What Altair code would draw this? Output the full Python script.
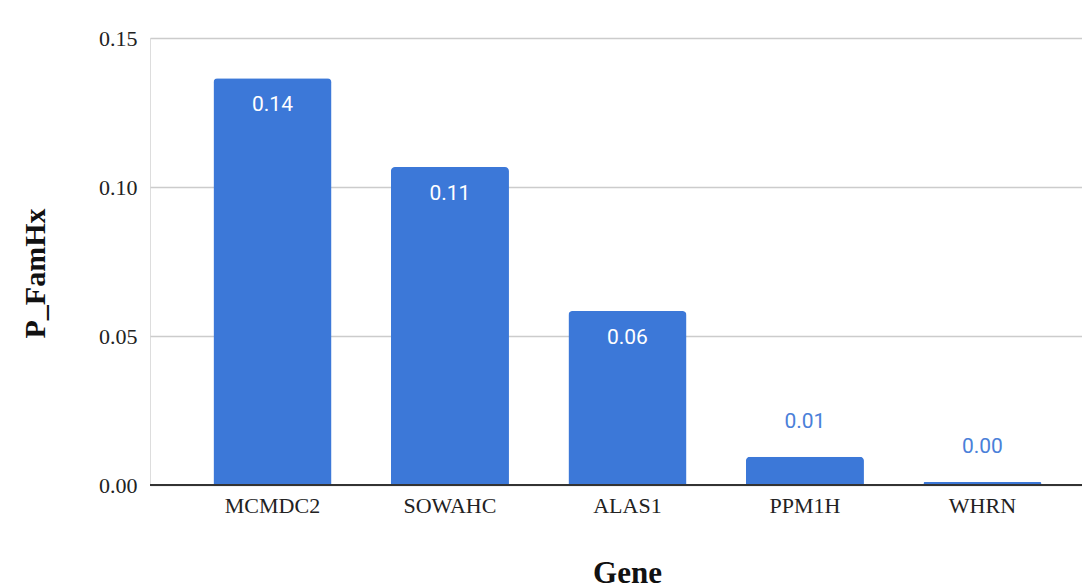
import altair as alt
import pandas as pd

# Gene-level P_FamHx values
genes = ["MCMDC2", "SOWAHC", "ALAS1", "PPM1H", "WHRN"]
p_famhx = [0.1365, 0.1067, 0.0584, 0.0095, 0.0010]
y_ticks = [0.0, 0.05, 0.10, 0.15]

df = pd.DataFrame({"gene": genes, "value": p_famhx})

BLUE = "#3c78d8"
SERIF = "Liberation Serif"

x_enc = alt.X(
    "gene:N",
    sort=genes,
    title="Gene",
    scale=alt.Scale(paddingInner=0.335, paddingOuter=0.293, align=0.61),
    axis=alt.Axis(
        labelFont=SERIF, labelFontSize=22, labelColor="#222222", labelAngle=0,
        labelPadding=10, ticks=False, domain=False, grid=False,
        titleFont=SERIF, titleFontSize=31, titleFontWeight="bold", titleColor="#111111",
        titleX=477, titleY=97, titleAlign="center", titleBaseline="alphabetic",
    ),
)
y_enc = alt.Y(
    "value:Q",
    title="P_FamHx",
    scale=alt.Scale(domain=[0, 0.15], nice=False),
    axis=alt.Axis(
        values=y_ticks, format=".2f",
        labelFont=SERIF, labelFontSize=22, labelColor="#222222", labelPadding=13,
        ticks=False, domain=False,
        grid=True, gridColor="#cccccc", gridWidth=1.5,
        titleFont=SERIF, titleFontSize=30, titleFontWeight="bold", titleColor="#111111",
        titleAngle=270, titleX=-106, titleY=235, titleAlign="center", titleBaseline="alphabetic",
    ),
)

base = alt.Chart(df)

bars = base.mark_bar(color=BLUE, cornerRadiusTopLeft=4, cornerRadiusTopRight=4).encode(
    x=x_enc, y=y_enc
)

inside = base.transform_filter("datum.value >= 0.03").mark_text(
    font="Roboto", fontSize=21, color="white", baseline="middle", dy=27
).encode(
    x=alt.X("gene:N", sort=genes),
    y="value:Q",
    text=alt.Text("value:Q", format=".2f"),
)

above = base.transform_filter("datum.value < 0.03").mark_text(
    font="Roboto", fontSize=21, color="#4a80d9", baseline="middle", dy=-35
).encode(
    x=alt.X("gene:N", sort=genes),
    y="value:Q",
    text=alt.Text("value:Q", format=".2f"),
)

zero_line = alt.Chart(pd.DataFrame({"z": [0.0]})).mark_rule(
    color="#333333", strokeWidth=2
).encode(y="z:Q")

chart = (
    alt.layer(bars, zero_line, inside, above)
    .properties(
        width=932,
        height=447,
        autosize=alt.AutoSizeParams(type="none"),
        padding={"left": 150, "top": 38, "right": 0, "bottom": 103},
    )
    .configure_view(stroke=None)
    .configure(background="white")
)

chart.save("out.html", embed_options={"renderer": "svg", "actions": False})
